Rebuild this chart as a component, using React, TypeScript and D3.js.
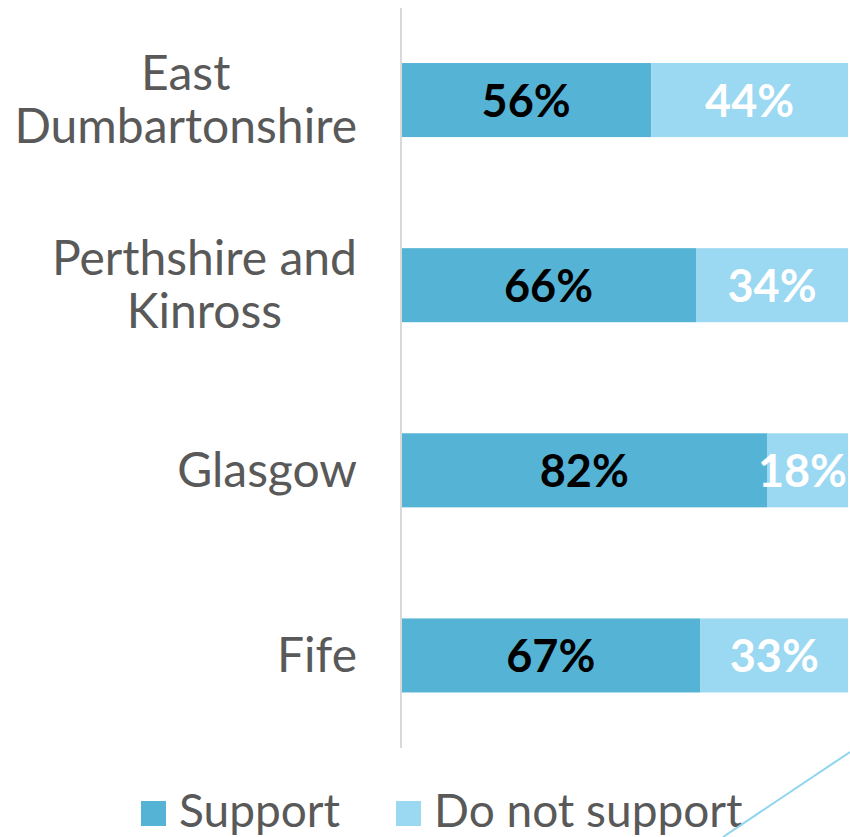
import {useEffect, useRef} from "react";
import * as d3 from 'd3'

const categories = ["East Dumbartonshire", "Perthshire and Kinross", "Glasgow", "Fife"]
const categoryLines = [["East", "Dumbartonshire"], ["Perthshire and", "Kinross"], ["Glasgow"], ["Fife"]]
const support = [56, 66, 82, 67]
const notSupport = [44, 34, 18, 33]
const seriesNames = ["Support", "Do not support"]
const seriesColors = ["#55b4d6", "#9bd8f2"]
const labelColors = ["#000000", "#ffffff"]

const W = 850
const H = 837
const FONT = "Lato, 'Open Sans', sans-serif"

const App = () => {
    const svgRef = useRef<SVGSVGElement>(null)

    useEffect(() => {
        document.body.style.margin = "0"
        const svg = d3.select(svgRef.current)
        svg.selectAll("*").remove()

        const x = d3.scaleLinear().domain([0, 100]).range([401, 848])
        const y = d3.scaleBand<string>()
            .domain(categories)
            .range([7.5, 748])
            .paddingInner(0.6)
            .paddingOuter(0.3)

        const rows = categories.map((c, i) => ({cat: c, values: [support[i], notSupport[i]]}))
        const stacked = d3.stack<any>()
            .keys(["0", "1"])
            .value((d, k) => d.values[+k])(rows)

        // bars
        const layers = svg.append("g").selectAll("g")
            .data(stacked)
            .join("g")
            .attr("fill", (d, i) => seriesColors[i])

        layers.selectAll("rect")
            .data(d => d)
            .join("rect")
            .attr("x", d => x(d[0]))
            .attr("y", d => y(d.data.cat)!)
            .attr("width", d => x(d[1]) - x(d[0]))
            .attr("height", y.bandwidth())

        // value labels, kept inside the picture
        stacked.forEach((layer, li) => {
            const t = svg.append("g").selectAll("text")
                .data(layer)
                .join("text")
                .attr("x", d => (x(d[0]) + x(d[1])) / 2)
                .attr("y", d => y(d.data.cat)! + y.bandwidth() / 2 + 17)
                .attr("text-anchor", "middle")
                .attr("font-family", FONT)
                .attr("font-weight", "bold")
                .attr("font-size", 45)
                .attr("fill", labelColors[li])
                .text(d => (d[1] - d[0]) + "%")
            t.each(function (d) {
                const el = this as SVGTextElement
                const w = el.getComputedTextLength()
                const cx = (x(d[0]) + x(d[1])) / 2
                if (cx + w / 2 > W - 3) d3.select(el).attr("x", W - 3 - w / 2)
            })
        })

        // axis line
        const axis = d3.axisLeft(y).tickSize(0).tickFormat(() => "")
        const ag = svg.append("g")
            .attr("transform", `translate(${x(0)},0)`)
            .call(axis)
        ag.select(".domain").attr("stroke", "#d9d9d9").attr("stroke-width", 2)
            .attr("d", `M0,8V748`)

        // category labels (centred lines, block right-aligned)
        const lineH = 53.5
        categories.forEach((c, i) => {
            const lines = categoryLines[i]
            const cy = y(c)! + y.bandwidth() / 2
            const g = svg.append("g")
            const texts = g.selectAll("text")
                .data(lines)
                .join("text")
                .attr("y", (d, j) => cy + 16.5 - (lines.length - 1) * lineH / 2 + j * lineH)
                .attr("text-anchor", "middle")
                .attr("font-family", FONT)
                .attr("font-size", 48)
                .attr("fill", "#595959")
                .text(d => d)
            let maxW = 0
            texts.each(function () {
                maxW = Math.max(maxW, (this as SVGTextElement).getComputedTextLength())
            })
            texts.attr("x", 357 - maxW / 2)
        })

        // legend
        const legendX = [141, 396]
        const lg = svg.append("g").selectAll("g")
            .data(seriesNames)
            .join("g")
            .attr("transform", (d, i) => `translate(${legendX[i]},801)`)
        lg.append("rect")
            .attr("width", 25)
            .attr("height", 25)
            .attr("fill", (d, i) => seriesColors[i])
        lg.append("text")
            .attr("x", 38)
            .attr("y", 26)
            .attr("font-family", FONT)
            .attr("font-size", 46)
            .attr("fill", "#595959")
            .text(d => d)

        // decorative slide line
        svg.append("line")
            .attr("x1", 723).attr("y1", 837)
            .attr("x2", 850).attr("y2", 752)
            .attr("stroke", "#8fd4f0")
            .attr("stroke-width", 2)
    }, [])

    return (
        <svg ref={svgRef} width={W} height={H} style={{display: "block", background: "#fff"}}/>
    )
}

export default App
